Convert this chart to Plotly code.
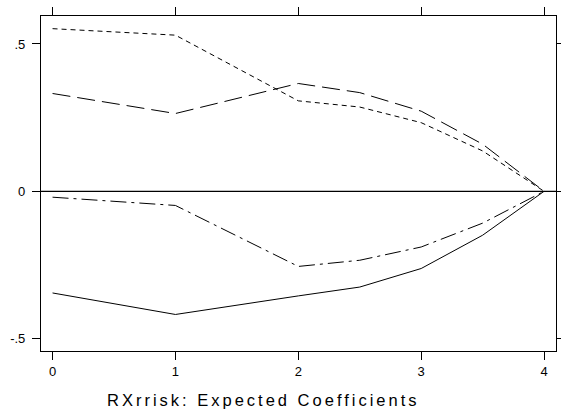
import plotly.graph_objects as go

x_vals = [0, 1, 2, 2.5, 3, 3.5, 4]
short_dash = [0.552, 0.530, 0.307, 0.286, 0.233, 0.137, 0.0]
long_dash = [0.332, 0.264, 0.366, 0.335, 0.272, 0.160, 0.0]
dash_dot = [-0.020, -0.048, -0.255, -0.234, -0.189, -0.108, 0.0]
solid = [-0.345, -0.418, -0.355, -0.325, -0.262, -0.149, 0.0]

y_tickvals = [-0.5, 0, 0.5]
y_ticktext = ["-.5", "0", ".5"]
x_tickvals = [0, 1, 2, 3, 4]
title_text = "RXrrisk: Expected Coefficients"

fig = go.Figure()
series = [
    (short_dash, "5px,4px"),
    (long_dash, "18px,7px"),
    (dash_dot, "16px,5px,3px,5px"),
    (solid, "solid"),
]
for ys, dash in series:
    fig.add_trace(go.Scatter(x=x_vals, y=ys, mode="lines",
                             line=dict(color="black", width=1, dash=dash),
                             showlegend=False, hoverinfo="skip"))

fig.add_hline(y=0, line=dict(color="black", width=1.2))

axis_common = dict(showline=True, linecolor="black", linewidth=1.2, mirror="allticks",
                   ticks="outside", ticklen=8, tickcolor="black", tickwidth=1,
                   showgrid=False, zeroline=False, automargin=False,
                   tickfont=dict(family="Liberation Sans, Arial, sans-serif", size=13, color="black"))

fig.update_xaxes(range=[-0.094, 4.097], tickvals=x_tickvals, **axis_common)
fig.update_yaxes(range=[-0.542, 0.595], tickvals=y_tickvals, ticktext=y_ticktext,
                 ticklabelstandoff=4, **axis_common)

fig.add_annotation(text=title_text, xref="paper", yref="paper", x=0.433, y=-0.114,
                   xanchor="center", yanchor="top", showarrow=False,
                   font=dict(family="Liberation Sans, Arial, sans-serif", size=16.5, color="black"))

fig.update_layout(width=561, height=409, margin=dict(l=41, r=5, t=16, b=58, autoexpand=False),
                  plot_bgcolor="white", paper_bgcolor="white")

post = (
    "document.body.style.margin='0';document.body.style.overflow='hidden';"
    "document.querySelectorAll('.annotation-text').forEach(function(t){t.style.letterSpacing='3px';});"
)
fig.write_html("out.html", post_script=post, config={"displayModeBar": False})
